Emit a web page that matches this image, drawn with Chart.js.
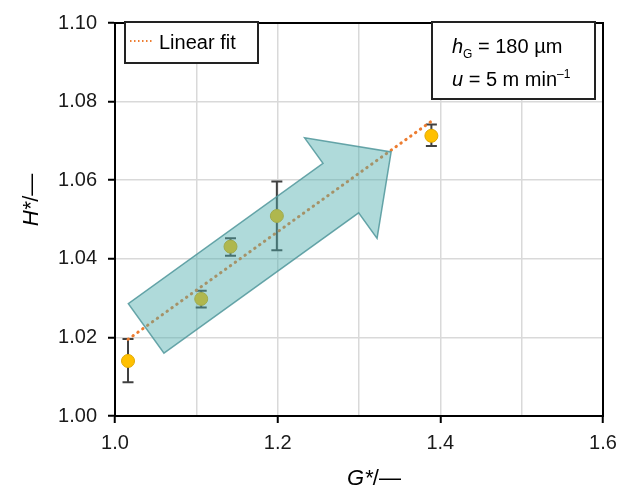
<!DOCTYPE html>
<html>
<head>
<meta charset="utf-8">
<script src="https://cdn.jsdelivr.net/npm/chart.js@4.4.1/dist/chart.umd.min.js"></script>
<style>
  body { margin: 0; background: #fff; }
  #wrap { width: 633px; height: 492px; }
</style>
</head>
<body>
<div id="wrap"><canvas id="fitChart" width="633" height="492"></canvas></div>
<script>
/* ---------------------------------------------------
    data
----------------------------------------------------- */
const gStar = [1.016, 1.106, 1.142, 1.199, 1.389];
const hStar = [1.014, 1.0298, 1.0431, 1.0509, 1.0713];
const errUp = [0.0056, 0.0021, 0.0021, 0.0088, 0.0029];
const errDown = [0.0054, 0.0022, 0.0023, 0.0087, 0.0026];

const fitX = [1.016, 1.389];
const fitY = [1.0195, 1.075];

const xTicks = [1.0, 1.2, 1.4, 1.6];
const yTicks = [1.0, 1.02, 1.04, 1.06, 1.08, 1.1];

// arrow annotation, tail centre -> tip in data units
const arrowFrom = [1.0383, 1.0223];
const arrowTo = [1.3395, 1.0672];

const FONT = '"Liberation Sans", Arial, sans-serif';

/* ---------------------------------------------------
    error bars
----------------------------------------------------- */
const errorBars = {
  id: "errorBars",
  beforeDatasetsDraw(chart) {
    const { ctx, scales } = chart;
    ctx.save();
    ctx.strokeStyle = "#404040";
    ctx.lineWidth = 2;
    gStar.forEach((g, i) => {
      const x = scales.x.getPixelForValue(g);
      const yTop = scales.y.getPixelForValue(hStar[i] + errUp[i]);
      const yBot = scales.y.getPixelForValue(hStar[i] - errDown[i]);
      ctx.beginPath();
      ctx.moveTo(x, yTop); ctx.lineTo(x, yBot);
      ctx.moveTo(x - 5.5, yTop); ctx.lineTo(x + 5.5, yTop);
      ctx.moveTo(x - 5.5, yBot); ctx.lineTo(x + 5.5, yBot);
      ctx.stroke();
    });
    // frame round the plot
    const a = chart.chartArea;
    ctx.strokeStyle = "#000";
    ctx.lineWidth = 2;
    ctx.strokeRect(a.left, a.top, a.right - a.left, a.bottom - a.top);
    ctx.restore();
  },
};

/* ---------------------------------------------------
    arrow, legend box, note box, axis titles
----------------------------------------------------- */
const extras = {
  id: "extras",
  afterDatasetsDraw(chart) {
    const { ctx, scales } = chart;
    const tx = scales.x.getPixelForValue(arrowFrom[0]);
    const ty = scales.y.getPixelForValue(arrowFrom[1]);
    const px = scales.x.getPixelForValue(arrowTo[0]);
    const py = scales.y.getPixelForValue(arrowTo[1]);
    const len = Math.hypot(px - tx, py - ty);
    const ux = (px - tx) / len, uy = (py - ty) / len;
    const nx = -uy, ny = ux;
    const shaft = 30.5, head = 62, headLen = 62;
    const bx = px - ux * headLen, by = py - uy * headLen;
    const pts = [
      [tx + nx * shaft, ty + ny * shaft],
      [bx + nx * shaft, by + ny * shaft],
      [bx + nx * head, by + ny * head],
      [px, py],
      [bx - nx * head, by - ny * head],
      [bx - nx * shaft, by - ny * shaft],
      [tx - nx * shaft, ty - ny * shaft],
    ];
    ctx.save();
    ctx.beginPath();
    pts.forEach((p, i) => (i ? ctx.lineTo(p[0], p[1]) : ctx.moveTo(p[0], p[1])));
    ctx.closePath();
    ctx.fillStyle = "rgba(78, 174, 174, 0.45)";
    ctx.fill();
    ctx.strokeStyle = "rgba(80, 150, 155, 0.85)";
    ctx.lineWidth = 1.5;
    ctx.stroke();

    // legend box
    ctx.fillStyle = "#fff";
    ctx.fillRect(125, 22, 133, 41);
    ctx.strokeStyle = "#222";
    ctx.lineWidth = 2;
    ctx.strokeRect(125, 22, 133, 41);
    ctx.strokeStyle = "#ED7D31";
    ctx.lineWidth = 2;
    ctx.setLineDash([1.5, 2.5]);
    ctx.beginPath();
    ctx.moveTo(130, 41); ctx.lineTo(153, 41);
    ctx.stroke();
    ctx.setLineDash([]);
    ctx.fillStyle = "#000";
    ctx.font = "20px " + FONT;
    ctx.textBaseline = "alphabetic";
    ctx.fillText(chart.data.datasets[1].label, 159, 49);

    // note box
    ctx.fillStyle = "#fff";
    ctx.fillRect(432, 22, 163, 77);
    ctx.strokeStyle = "#222";
    ctx.strokeRect(432, 22, 163, 77);
    ctx.fillStyle = "#000";
    let x = 452;
    ctx.font = "italic 20px " + FONT;
    ctx.fillText("h", x, 53);
    x += ctx.measureText("h").width;
    ctx.font = "12px " + FONT;
    ctx.fillText("G", x, 58);
    x += ctx.measureText("G").width;
    ctx.font = "20px " + FONT;
    ctx.fillText(" = 180 µm", x, 53);

    x = 452;
    ctx.font = "italic 20px " + FONT;
    ctx.fillText("u", x, 86);
    x += ctx.measureText("u").width;
    ctx.font = "20px " + FONT;
    ctx.fillText(" = 5 m min", x, 86);
    x += ctx.measureText(" = 5 m min").width;
    ctx.font = "12px " + FONT;
    ctx.fillText("\u20131", x, 78);
    ctx.restore();
  },
  afterDraw(chart) {
    const { ctx } = chart;
    ctx.save();
    ctx.fillStyle = "#000";
    ctx.textBaseline = "alphabetic";
    // x title
    ctx.font = "italic 22px " + FONT;
    let w1 = ctx.measureText("G*").width;
    ctx.font = "22px " + FONT;
    let w2 = ctx.measureText("/\u2014").width;
    let x = 374 - (w1 + w2) / 2;
    ctx.font = "italic 22px " + FONT;
    ctx.fillText("G*", x, 485);
    ctx.font = "22px " + FONT;
    ctx.fillText("/\u2014", x + w1, 485);
    // y title
    ctx.translate(38, 200);
    ctx.rotate(-Math.PI / 2);
    ctx.font = "italic 22px " + FONT;
    w1 = ctx.measureText("H*").width;
    ctx.font = "22px " + FONT;
    w2 = ctx.measureText("/\u2014").width;
    x = -(w1 + w2) / 2;
    ctx.font = "italic 22px " + FONT;
    ctx.fillText("H*", x, 0);
    ctx.font = "22px " + FONT;
    ctx.fillText("/\u2014", x + w1, 0);
    ctx.restore();
  },
};

/* ---------------------------------------------------
    chart
----------------------------------------------------- */
new Chart(document.getElementById("fitChart"), {
  type: "scatter",
  data: {
    datasets: [
      {
        label: "H*",
        data: gStar.map((g, i) => ({ x: g, y: hStar[i] })),
        backgroundColor: "#FFC000",
        borderColor: "#E0A800",
        borderWidth: 1,
        pointRadius: 6.5,
        order: 1,
      },
      {
        label: "Linear fit",
        type: "line",
        data: fitX.map((g, i) => ({ x: g, y: fitY[i] })),
        borderColor: "#ED7D31",
        borderWidth: 3,
        borderDash: [0.5, 5.5],
        borderCapStyle: "round",
        pointRadius: 0,
        fill: false,
        order: 2,
      },
    ],
  },
  options: {
    responsive: false,
    animation: false,
    layout: { padding: { top: 15, right: 30, left: 0, bottom: 0 } },
    plugins: { legend: { display: false }, tooltip: { enabled: false } },
    scales: {
      x: {
        type: "linear",
        min: 1.0,
        max: 1.6,
        afterFit: (s) => { s.height = 76; },
        ticks: {
          stepSize: 0.1,
          padding: 8,
          color: "#1a1a1a",
          font: { family: FONT, size: 20 },
          callback: (v) => (xTicks.some((t) => Math.abs(t - v) < 1e-6) ? v.toFixed(1) : ""),
        },
        grid: {
          color: "#D9D9D9",
          lineWidth: 1.5,
          tickLength: 7,
          tickWidth: 2,
          tickColor: (c) => (c.tick && xTicks.some((t) => Math.abs(t - c.tick.value) < 1e-6) ? "#000" : "rgba(0,0,0,0)"),
        },
        border: { display: true, color: "#000", width: 2 },
      },
      y: {
        min: 1.0,
        max: 1.1,
        afterFit: (s) => { s.width = 115; },
        afterBuildTicks: (s) => { s.ticks = yTicks.map((v) => ({ value: v })); },
        ticks: {
          padding: 11,
          color: "#1a1a1a",
          font: { family: FONT, size: 20 },
          callback: (v) => v.toFixed(2),
        },
        grid: { color: "#D9D9D9", lineWidth: 1.5, tickLength: 7, tickWidth: 2, tickColor: "#000" },
        border: { display: true, color: "#000", width: 2 },
      },
    },
  },
  plugins: [errorBars, extras],
});
</script>
</body>
</html>
